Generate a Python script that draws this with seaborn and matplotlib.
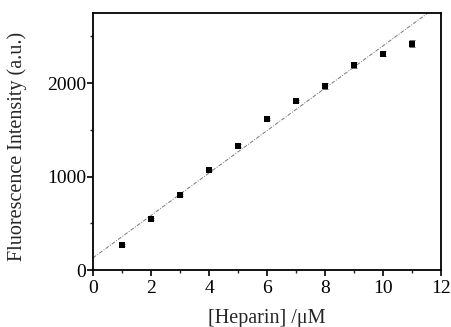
import numpy as np
import pandas as pd
import matplotlib
matplotlib.use("Agg")
import matplotlib.pyplot as plt
import seaborn as sns
from matplotlib.ticker import MultipleLocator

# values
heparin = [1, 2, 3, 4, 5, 6, 7, 8, 9, 10, 11]
intensity = [267, 545, 802, 1070, 1330, 1615, 1807, 1968, 2193, 2317, 2424]
errors = [10, 12, 12, 12, 15, 12, 12, 35, 30, 30, 35]

# linear fit shown in the figure
fit_intercept = 130
fit_slope = 227
fit_x = [0, 12]

sns.set_theme(style="ticks")
plt.rcParams["font.family"] = ["Liberation Serif", "DejaVu Serif"]
plt.rcParams["font.size"] = 11

df = pd.DataFrame({"x": heparin, "y": intensity, "err": errors})
fit = pd.DataFrame({"x": fit_x, "y": [fit_intercept + fit_slope * v for v in fit_x]})

fig = plt.figure(figsize=(4.52, 3.27), dpi=100)
ax = fig.add_axes([0.2058, 0.1743, 0.77, 0.7857])

sns.lineplot(data=fit, x="x", y="y", ax=ax, color="#777777", lw=0.7,
             linestyle=(0, (4, 1.5, 1, 1.5)))
ax.errorbar(df["x"], df["y"], yerr=df["err"], fmt="none", ecolor="#555555",
            elinewidth=0.6, capsize=2, capthick=0.6)
sns.scatterplot(data=df, x="x", y="y", ax=ax, marker="s", s=22, color="black",
                edgecolor="black", linewidth=0, zorder=3)

ax.set_xlim(0, 12)
ax.set_ylim(0, 2750)
ax.xaxis.set_major_locator(MultipleLocator(2))
ax.xaxis.set_minor_locator(MultipleLocator(1))
ax.yaxis.set_major_locator(MultipleLocator(1000))
ax.yaxis.set_minor_locator(MultipleLocator(500))
ax.tick_params(which="major", direction="out", length=4, width=1.2, labelsize=14,
               colors="black")
ax.tick_params(axis="x", which="major", pad=3)
ax.tick_params(axis="y", which="major", pad=1)
ax.tick_params(which="minor", direction="out", length=2.5, width=1.0)
for s in ax.spines.values():
    s.set_linewidth(1.3)
    s.set_color("black")

ax.set_xlabel("[Heparin] /μM", fontsize=14.5, labelpad=9)
ax.set_ylabel("Fluorescence Intensity (a.u.)", fontsize=14.5, labelpad=12)
ax.yaxis.set_label_coords(-0.19, 0.48)

fig.savefig("out.png", dpi=100)
